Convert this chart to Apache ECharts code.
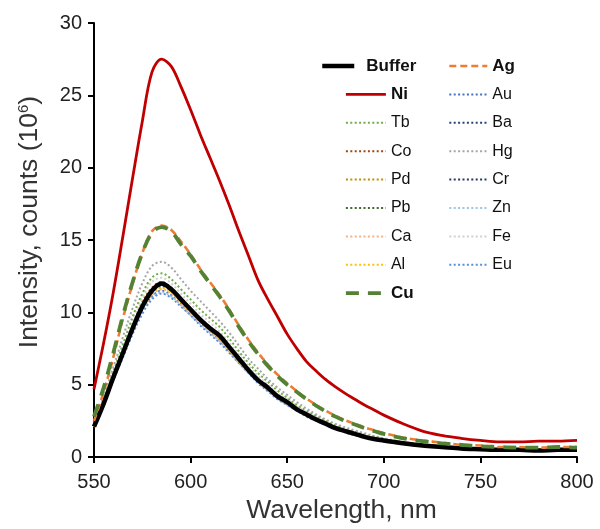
<!DOCTYPE html>
<html><head><meta charset="utf-8">
<script src="https://cdn.jsdelivr.net/npm/echarts@6/dist/echarts.min.js"></script>
<style>html,body{margin:0;padding:0;background:#fff}#c{width:600px;height:529px}</style>
</head><body><div id="c"></div>
<script>
const wavelengths = [550,555,560,565,570,575,580,585,590,595,600,605,610,615,620,625,630,635,640,645,650,655,660,665,670,675,680,685,690,695,700,710,720,730,740,750,760,770,780,790,800];
const xTicks = [550,600,650,700,750,800];
const yTicks = [0,5,10,15,20,25,30];

const Buffer = [2.1,3.7,5.5,7.2,8.9,10.4,11.5,12.0,11.6,10.9,10.2,9.5,8.9,8.4,7.6,6.8,6.0,5.3,4.8,4.2,3.8,3.3,2.95,2.6,2.3,2.0,1.8,1.6,1.4,1.25,1.15,0.95,0.8,0.7,0.6,0.55,0.5,0.5,0.45,0.5,0.5];
const Ni = [4.7,7.9,11.4,15.3,19.3,23.2,26.6,27.5,27.0,25.6,24.0,22.3,20.7,19.1,17.4,15.6,13.9,12.2,10.9,9.7,8.5,7.5,6.6,5.95,5.35,4.85,4.4,4.0,3.6,3.25,2.9,2.3,1.8,1.5,1.3,1.15,1.05,1.05,1.1,1.1,1.15];
const Cu = [2.8,4.8,7.2,9.8,12.1,14.1,15.5,15.9,15.6,14.7,13.9,12.9,12.0,11.1,10.1,9.0,8.0,7.1,6.3,5.6,5.0,4.5,4.0,3.55,3.15,2.8,2.5,2.25,2.0,1.8,1.6,1.3,1.1,0.95,0.85,0.75,0.7,0.65,0.65,0.7,0.65];
const Ag = [2.5,4.5,6.9,9.6,12.0,14.1,15.6,16.0,15.7,14.9,14.0,13.0,12.1,11.2,10.2,9.1,8.1,7.2,6.4,5.7,5.1,4.55,4.05,3.6,3.2,2.85,2.55,2.3,2.05,1.85,1.65,1.35,1.15,1.0,0.85,0.8,0.7,0.7,0.65,0.7,0.7];
const Hg = [2.4,4.2,6.2,8.3,10.3,12.0,13.2,13.5,13.1,12.3,11.5,10.8,10.1,9.4,8.6,7.7,6.8,6.1,5.4,4.8,4.3,3.8,3.35,2.95,2.6,2.3,2.05,1.85,1.65,1.45,1.3,1.05,0.9,0.75,0.65,0.6,0.55,0.55,0.5,0.55,0.55];
const Tb = [2.3,4.0,5.9,7.8,9.7,11.3,12.4,12.7,12.3,11.6,10.9,10.2,9.6,9.0,8.2,7.3,6.5,5.8,5.2,4.6,4.1,3.6,3.2,2.85,2.5,2.2,1.95,1.75,1.55,1.4,1.25,1.0,0.85,0.75,0.65,0.6,0.55,0.5,0.5,0.55,0.5];
const Fe = [2.3,3.9,5.8,7.6,9.4,11.0,12.1,12.4,12.0,11.3,10.6,9.9,9.3,8.7,7.9,7.1,6.3,5.6,5.0,4.4,4.0,3.5,3.1,2.75,2.45,2.15,1.9,1.7,1.5,1.35,1.2,1.0,0.85,0.7,0.65,0.55,0.5,0.5,0.5,0.5,0.5];
const Co = [2.2,3.8,5.6,7.4,9.1,10.7,11.7,12.1,11.7,11.0,10.3,9.6,9.0,8.4,7.7,6.9,6.1,5.4,4.8,4.3,3.85,3.4,3.0,2.65,2.35,2.05,1.85,1.65,1.45,1.3,1.15,0.95,0.8,0.7,0.6,0.55,0.5,0.5,0.5,0.5,0.5];
const Pd = [2.2,3.8,5.6,7.3,9.0,10.6,11.6,12.0,11.6,10.9,10.2,9.5,8.9,8.3,7.6,6.8,6.0,5.35,4.8,4.25,3.8,3.35,2.95,2.6,2.3,2.05,1.8,1.6,1.45,1.3,1.15,0.95,0.8,0.7,0.6,0.55,0.5,0.5,0.45,0.5,0.5];
const Pb = [2.2,3.7,5.5,7.3,9.0,10.5,11.5,11.9,11.5,10.8,10.1,9.5,8.9,8.3,7.5,6.7,6.0,5.3,4.75,4.2,3.75,3.3,2.95,2.6,2.3,2.0,1.8,1.6,1.4,1.25,1.15,0.95,0.8,0.7,0.6,0.55,0.5,0.5,0.45,0.5,0.5];
const Ca = [2.1,3.6,5.4,7.1,8.8,10.2,11.2,11.6,11.3,10.6,9.9,9.3,8.7,8.1,7.4,6.6,5.9,5.2,4.65,4.1,3.7,3.25,2.9,2.55,2.25,2.0,1.75,1.55,1.4,1.25,1.1,0.9,0.8,0.7,0.6,0.55,0.5,0.45,0.45,0.5,0.45];
const Al = [2.1,3.7,5.4,7.1,8.8,10.3,11.3,11.7,11.4,10.7,10.0,9.4,8.8,8.2,7.4,6.6,5.9,5.25,4.7,4.15,3.7,3.25,2.9,2.55,2.25,2.0,1.75,1.55,1.4,1.25,1.1,0.9,0.8,0.7,0.6,0.55,0.5,0.45,0.45,0.5,0.5];
const Au = [2.2,3.7,5.5,7.2,8.8,10.2,11.1,11.5,11.2,10.6,9.9,9.3,8.7,8.1,7.3,6.6,5.9,5.2,4.65,4.1,3.65,3.25,2.9,2.55,2.25,2.0,1.75,1.55,1.4,1.25,1.1,0.9,0.8,0.7,0.6,0.55,0.5,0.45,0.45,0.5,0.45];
const Ba = [2.2,3.8,5.6,7.3,9.0,10.4,11.4,11.8,11.5,10.8,10.1,9.4,8.8,8.2,7.5,6.7,5.95,5.3,4.7,4.2,3.75,3.3,2.95,2.6,2.3,2.0,1.8,1.6,1.4,1.25,1.15,0.95,0.8,0.7,0.6,0.55,0.5,0.5,0.45,0.5,0.5];
const Cr = [2.2,3.8,5.6,7.3,9.0,10.5,11.5,11.9,11.6,10.9,10.2,9.5,8.9,8.3,7.5,6.7,6.0,5.3,4.75,4.2,3.75,3.3,2.95,2.6,2.3,2.05,1.8,1.6,1.45,1.3,1.15,0.95,0.8,0.7,0.6,0.55,0.5,0.5,0.5,0.5,0.5];
const Zn = [2.1,3.6,5.3,7.0,8.6,10.0,11.0,11.4,11.1,10.5,9.8,9.2,8.6,8.0,7.3,6.5,5.8,5.15,4.6,4.05,3.6,3.2,2.85,2.5,2.2,1.95,1.75,1.55,1.35,1.2,1.1,0.9,0.75,0.65,0.6,0.5,0.5,0.45,0.45,0.45,0.45];
const Eu = [2.1,3.6,5.3,6.9,8.5,9.9,10.9,11.3,11.0,10.4,9.8,9.1,8.5,7.9,7.2,6.5,5.8,5.1,4.55,4.0,3.6,3.2,2.8,2.5,2.2,1.95,1.7,1.5,1.35,1.2,1.1,0.9,0.75,0.65,0.55,0.5,0.45,0.45,0.45,0.45,0.45];

const DOT = [2, 2.4];
const seriesDefs = [
  {name:'Au', data:Au, color:'#4472c4', width:2, type:DOT},
  {name:'Ba', data:Ba, color:'#264478', width:2, type:DOT},
  {name:'Cr', data:Cr, color:'#203864', width:2, type:DOT},
  {name:'Zn', data:Zn, color:'#9dc3e6', width:2, type:DOT},
  {name:'Eu', data:Eu, color:'#5b8fd6', width:2, type:DOT},
  {name:'Co', data:Co, color:'#9e480e', width:2, type:DOT},
  {name:'Pd', data:Pd, color:'#bf9000', width:2, type:DOT},
  {name:'Pb', data:Pb, color:'#43682b', width:2, type:DOT},
  {name:'Ca', data:Ca, color:'#f4b183', width:2, type:DOT},
  {name:'Al', data:Al, color:'#ffc000', width:2, type:DOT},
  {name:'Fe', data:Fe, color:'#d0d0d0', width:2, type:DOT},
  {name:'Tb', data:Tb, color:'#70ad47', width:2, type:DOT},
  {name:'Hg', data:Hg, color:'#a5a5a5', width:2, type:DOT},
  {name:'Buffer', data:Buffer, color:'#000000', width:4.5, type:'solid'},
  {name:'Ag', data:Ag, color:'#ed7d31', width:2.6, type:[7,4]},
  {name:'Cu', data:Cu, color:'#548235', width:3.8, type:[13,9]},
  {name:'Ni', data:Ni, color:'#c00000', width:2.8, type:'solid'}
];
const defByName = {};
seriesDefs.forEach(s => { defByName[s.name] = s; });

const boldNames = ['Buffer','Ni','Cu','Ag'];
function legendItems(names){
  return names.map(n => {
    const d = defByName[n];
    const item = {name:n, lineStyle:{width:d.width, type:d.type, color:d.color}};
    if (boldNames.includes(n)) item.textStyle = {fontWeight:'bold', fontSize:17};
    return item;
  });
}
const legendCommon = {
  orient:'vertical', itemWidth:39, itemHeight:14, itemGap:10.4, padding:0,
  textStyle:{fontFamily:'Liberation Sans', fontSize:16, color:'#111', lineHeight:18},
  itemStyle:{opacity:0, borderWidth:0},
  selectedMode:false
};
const bufferLegend = legendItems(['Buffer']);
bufferLegend[0].textStyle.padding = [0,0,0,7];

const chart = echarts.init(document.getElementById('c'), null, {renderer:'canvas'});
chart.setOption({
  animation:false,
  backgroundColor:'#fff',
  grid:{left:94, right:23, top:23, bottom:65},
  legend:[
    Object.assign({}, legendCommon, {left:320, top:57, itemWidth:32, data:bufferLegend}),
    Object.assign({}, legendCommon, {left:344, top:85.4, itemWidth:40, data:legendItems(['Ni','Tb','Co','Pd','Pb','Ca','Al','Cu'])}),
    Object.assign({}, legendCommon, {left:448, top:57, itemWidth:38, data:legendItems(['Ag','Au','Ba','Hg','Cr','Zn','Fe','Eu'])})
  ],
  xAxis:{
    type:'value', min:550, max:800, interval:50,
    name:'Wavelength, nm', nameLocation:'middle', nameGap:35,
    nameTextStyle:{fontFamily:'Liberation Sans', fontSize:26.5, color:'#333', padding:[0,0,0,12]},
    axisLine:{lineStyle:{color:'#000', width:2}},
    axisTick:{show:true, length:6, lineStyle:{color:'#000', width:2}},
    axisLabel:{fontFamily:'Liberation Sans', fontSize:20, color:'#222', margin:15,
      formatter:v => xTicks.includes(v) ? String(v) : ''},
    splitLine:{show:false}
  },
  yAxis:{
    type:'value', min:0, max:30, interval:5,
    name:'Intensity, counts (10{sup|6})', nameLocation:'middle', nameGap:50,
    nameTextStyle:{fontFamily:'Liberation Sans', fontSize:26.5, color:'#333', padding:[0,0,0,36],
      rich:{sup:{fontSize:15, verticalAlign:'top', color:'#333', fontFamily:'Liberation Sans', padding:[0,0,13,0]}}},
    axisLine:{show:true, lineStyle:{color:'#000', width:2}},
    axisTick:{show:true, length:6, lineStyle:{color:'#000', width:2}},
    axisLabel:{fontFamily:'Liberation Sans', fontSize:20, color:'#222', margin:12,
      formatter:v => yTicks.includes(v) ? String(v) : ''},
    splitLine:{show:false}
  },
  series: seriesDefs.map(s => ({
    name:s.name, type:'line', symbol:'none', showSymbol:false,
    data: wavelengths.map((w,i) => [w, s.data[i]]),
    smooth:0.35,
    color:s.color,
    lineStyle:{color:s.color, width:s.width, type:s.type},
    emphasis:{disabled:true}
  }))
});
</script></body></html>
